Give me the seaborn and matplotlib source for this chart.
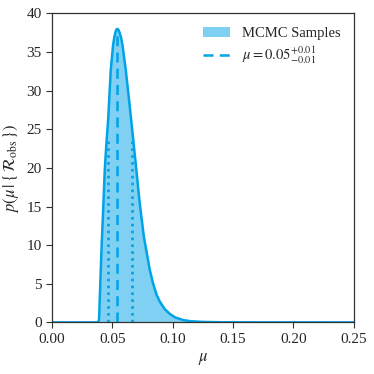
import matplotlib
matplotlib.use("Agg")
import matplotlib.pyplot as plt
import seaborn as sns
import numpy as np

# posterior density
mu_grid = [0.000, 0.0385, 0.0390, 0.0400, 0.0412, 0.0425, 0.0437, 0.0450, 0.0465,
           0.0487, 0.0506, 0.0517, 0.0528, 0.0535, 0.0542, 0.0550, 0.0560,
           0.0572, 0.0584, 0.0611, 0.0635, 0.0656, 0.0692, 0.0710, 0.0727, 0.0761,
           0.0810, 0.0838, 0.0866, 0.0893, 0.0935, 0.0976, 0.1020, 0.1087,
           0.1150, 0.1250, 0.1400, 0.1700, 0.2500]
density = [0.0, 0.0, 0.5, 5.0, 10.2, 15.0, 19.7, 23.0, 26.2,
           32.7, 35.9, 37.0, 37.7, 37.95, 38.0, 37.9, 37.5,
           36.9, 35.9, 32.7, 29.3, 26.2, 20.8, 18.0, 15.4, 11.1,
           6.8, 5.0, 3.6, 2.7, 1.7, 1.1, 0.65, 0.3,
           0.15, 0.06, 0.02, 0.005, 0.0]

median = 0.0542
lower = 0.0462
upper = 0.0661

line_col = "#00a3e6"
fill_col = "#80d0f3"

sns.set_style("ticks")
plt.rcParams['font.family'] = ['Liberation Serif', 'DejaVu Serif']
plt.rcParams['mathtext.fontset'] = 'stix'

fig = plt.figure(figsize=(3.74, 3.74), dpi=100)
ax = fig.add_axes([0.139, 0.138, 0.807, 0.826])

ax.fill_between(mu_grid, density, color=fill_col, lw=0, label="MCMC Samples")
sns.lineplot(x=mu_grid, y=density, ax=ax, color=line_col, lw=1.8)

# median and interval lines under the curve
def height_at(v):
    return np.interp(v, mu_grid, density)

ax.plot([median, median], [0, height_at(median)], color=line_col, lw=1.8,
        ls=(0, (4, 2.5)), label=r"$\mu = 0.05^{+0.01}_{-0.01}$")
for v in [lower, upper]:
    ax.plot([v, v], [0, height_at(v) - 1.5], color=line_col, lw=1.9, ls=(0, (1, 1.6)))

ax.set_xlim(0, 0.25)
ax.set_ylim(0, 40)
ax.set_xticks([0.0, 0.05, 0.10, 0.15, 0.20, 0.25])
ax.set_xticklabels(["0.00", "0.05", "0.10", "0.15", "0.20", "0.25"])
ax.set_yticks(range(0, 41, 5))
ax.tick_params(labelsize=11, direction='out', length=4, width=0.8, color='#333333')
for s in ax.spines.values():
    s.set_color('#333333')
    s.set_linewidth(0.9)

ax.set_xlabel(r"$\mu$", fontsize=12)
ax.set_ylabel(r"$p(\mu\,|\,\{\,\mathcal{R}_{\rm obs}\,\})$", fontsize=12)

handles, labels = ax.get_legend_handles_labels()
ax.legend(handles, labels, loc='upper right', frameon=False, fontsize=10.5,
          handlelength=1.9, labelspacing=0.3, borderaxespad=0.5)

fig.savefig("out.png", dpi=100)
